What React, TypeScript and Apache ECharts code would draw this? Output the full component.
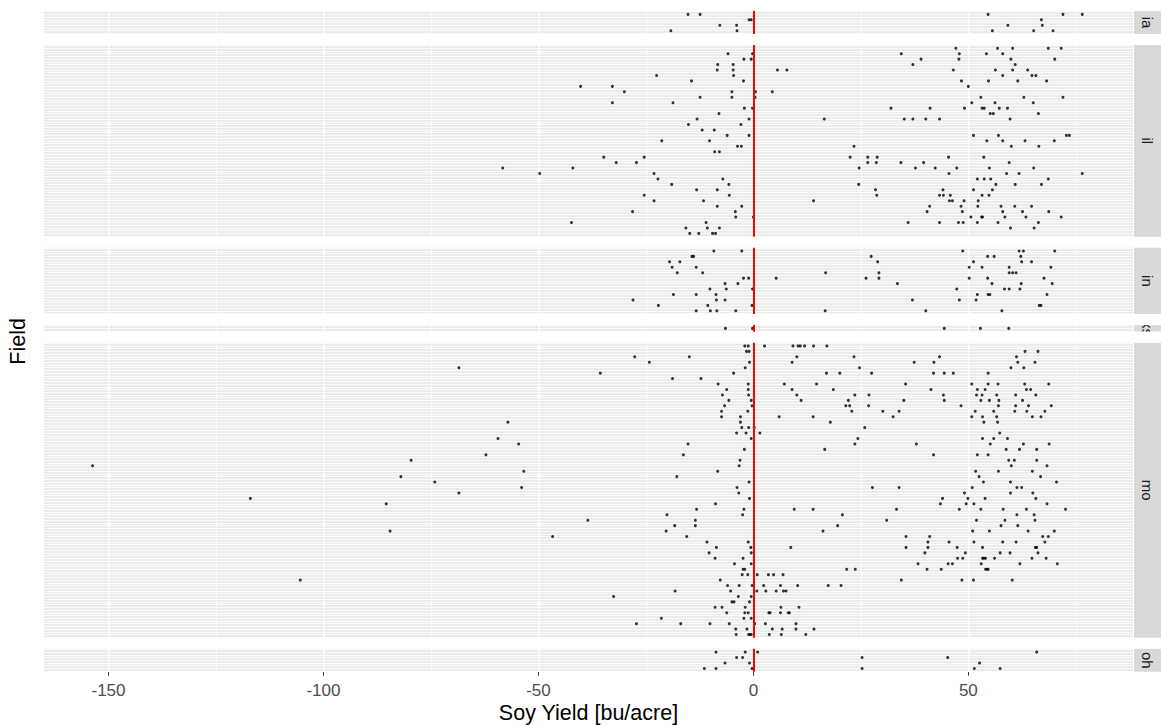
import React, { useEffect, useRef } from "react";
import * as echarts from "echarts";

// Facet strip labels (state) and the per-field yield differences, one array per field row.
const stripLabels = ["ia", "il", "in", "ks", "mo", "oh"];

const iaRows: number[][] = [
  [-15.2, -12.4, 54.6, 72.0, 76.5],
  [-1.0, -0.5, 67.0],
  [-7.8, -3.9, 59.2, 67.2],
  [-19.2, -3.8, 55.6, 65.2, 69.7],
];

const ilRows: number[][] = [
  [47.1, 56.8, 60.3, 68.6, 71.6],
  [-5.9, -0.2, 34.4, 47.9, 54.2, 58.0],
  [-2.2, -0.5, 39.0, 47.8, 59.9, 70.1],
  [-8.3, -4.7, 37.1, 60.9],
  [-8.4, -4.7, 5.6, 7.8, 46.5, 56.3, 60.3, 63.8],
  [-22.5, -4.6, 58.0, 64.8, 65.7],
  [-14.4, -2.3, 48.4, 54.7, 61.5, 68.2],
  [-40.2, -32.8, 50.0],
  [-30.0, -5.0, 0.5, 4.4],
  [-12.4, -5.0, 0.4, 52.9, 62.9, 72.0],
  [-32.8, -18.7, 50.8, 56.2, 65.1],
  [-2.1, -0.2, 32.0, 41.1, 49.1, 53.2, 53.7, 57.2, 59.1],
  [-8.0, 55.1, 55.8, 66.3],
  [-13.1, -1.0, 16.5, 35.1, 37.1, 40.1, 43.3, 59.7],
  [-15.1, -2.9],
  [-11.9, -9.1],
  [-6.1, -1.0, 51.2, 57.0, 72.8, 73.5],
  [-21.3, -10.2, 54.3, 58.0, 63.2, 70.0],
  [-3.7, -2.8, 23.4, 60.0, 66.4],
  [-9.0, -7.9],
  [-34.8, -25.4, 22.5, 26.6, 28.8, 45.4, 53.6],
  [-31.9, -27.2, 26.6, 28.6, 34.3, 39.6, 59.5],
  [-58.3, -42.0, 24.6, 37.7, 42.3, 47.3, 54.9, 65.2],
  [-49.7, -23.1, 45.5, 58.9, 61.8, 76.5],
  [-22.2, -7.1, 52.1, 53.7, 55.2, 68.6],
  [-19.0, -5.7, 24.5, 56.4, 60.9, 67.0],
  [-13.2, -8.4, 28.4, 44.1, 51.2, 55.6],
  [-25.4, -5.6, 28.7, 43.3, 44.2, 45.8, 53.2, 54.8],
  [-23.1, -11.6, 14.0, 45.6, 46.3, 49.0, 52.3],
  [-8.4, -2.7, 41.0, 48.3, 52.2, 57.6, 60.8, 64.7],
  [-28.1, -4.2, 40.4, 48.6, 58.0, 62.6, 68.7],
  [-4.1, 0.0, 50.6, 53.1, 53.3, 58.5, 63.4, 71.6],
  [-42.3, -11.0, 36.0, 43.3, 47.7, 48.8, 52.1, 56.9, 66.3],
  [-15.7, -10.7, -7.9, 59.8, 65.3],
  [-14.8, -12.7, -9.5, -8.8],
];

const inRows: number[][] = [
  [-9.2, -2.7, 48.7, 61.8, 62.8, 70.1],
  [-14.3, -13.9, 27.4, 54.5, 56.0, 62.2],
  [-19.5, -17.1, 28.9, 51.2, 62.4, 64.7],
  [-18.9, -13.3, 50.2, 53.2, 59.5, 69.2],
  [-17.7, -11.8, 16.8, 29.2, 59.5, 60.3, 61.1],
  [-2.3, -1.1, 5.3, 26.2, 29.2, 50.2, 54.5, 67.6],
  [-6.6, -3.6, 33.5, 55.5, 62.3, 69.5],
  [-10.1, -6.3, -0.2, 47.3, 58.4, 59.5, 62.0],
  [-18.6, -13.3, -8.7, 52.1, 54.6, 55.0, 68.3],
  [-28.0, -8.6, -6.6, 37.0, 47.9, 51.8],
  [-22.1, -10.6, -0.3, 66.5, 66.9],
  [-13.3, -10.0, -8.5, -4.1, 16.7, 40.1, 57.8],
];

const ksRows: number[][] = [[-6.5, -0.2, 44.4, 52.8, 59.4]];

const moRows: number[][] = [
  [-2.0, -1.2, 2.6, 9.2, 10.4, 10.9, 11.9, 14.0, 17.1],
  [-1.6, -1.0, 63.2, 66.2],
  [-27.6, -14.9, 10.1, 23.4, 43.3, 61.2],
  [-24.2, -0.9, 9.0, 37.4, 42.0, 61.5, 65.5],
  [-68.5, -1.9, 24.7, 59.9, 62.9],
  [-35.6, -4.6, 17.0, 20.1, 27.5, 41.9, 44.4, 46.5, 54.6],
  [-18.8, -12.2],
  [-8.2, -1.2, 7.2, 14.7, 35.4, 50.8, 54.6, 56.9, 63.1, 68.7],
  [-6.2, -1.2, 9.0, 18.6, 41.3, 52.1, 53.9, 63.5, 64.5],
  [-7.2, -1.1, 10.1, 23.6, 26.9, 44.2, 51.9, 53.2, 56.6, 61.0, 65.7],
  [-5.7, -0.5, 11.1, 22.1, 35.0, 44.4, 52.9, 54.9, 57.1, 62.6],
  [-6.7, -0.3, 21.5, 22.4, 26.8, 48.3, 57.0, 61.0, 64.0, 69.3],
  [-7.4, -1.3, 22.9, 30.1, 33.9, 51.6, 55.9, 60.8, 63.6, 67.8],
  [-7.4, -3.0, 6.0, 13.9, 32.5, 50.8, 53.3, 56.6, 64.9, 66.9],
  [-57.1, -3.0, 17.9, 53.6, 56.8],
  [-2.7, -1.1, 0.2, 25.9],
  [-3.9, -1.7, 1.5, 57.3],
  [-59.4, -0.5, 24.3, 53.3, 55.9, 59.1],
  [-54.6, -15.2, 23.6, 37.9, 55.1, 62.8, 68.8],
  [-2.1, 16.6, 58.8, 61.9, 65.9],
  [-62.2, -16.3, 41.9, 52.1, 54.6],
  [-79.6, -3.1, 59.4, 60.7, 65.9],
  [-153.7, -3.3, 60.0, 68.3],
  [-53.4, -8.3, 51.7, 57.0, 64.9],
  [-82.0, -17.8, 52.5, 66.8],
  [-74.1, -1.0, 53.5, 59.8, 70.5],
  [-53.9, -3.8, 27.7, 33.9, 50.9, 61.3, 62.4],
  [-68.5, -3.4, 49.1, 59.8, 65.0],
  [-117.0, -0.9, 44.0, 49.9, 53.9, 65.7],
  [-85.4, -8.8, 43.5, 49.5, 51.3, 68.3],
  [-13.2, -2.2, 9.5, 13.9, 33.3, 47.9, 52.9, 58.1, 63.5, 72.6],
  [-20.1, -2.5, 20.7, 61.3, 65.3],
  [-38.5, -13.5, 31.0, 51.9, 58.5, 65.5],
  [-18.3, -13.5, 19.6, 57.6, 61.5],
  [-84.5, -20.3, 16.2, 51.0, 54.9, 63.9, 70.0],
  [-46.7, -15.5, 35.5, 41.0, 67.3, 68.6],
  [-10.8, -1.2, 40.6, 45.5, 51.3, 58.0, 61.1, 67.8],
  [-8.6, -0.6, 8.7, 35.5, 40.6, 47.4, 53.3, 65.6, 65.9],
  [-10.3, -0.5, 39.9, 49.3, 57.4, 59.7, 66.2],
  [-8.9, -2.4, 47.5, 48.7, 53.3, 53.6, 54.0, 56.1, 64.8, 68.1],
  [-4.4, -0.5, 38.3, 45.3, 46.3, 53.0, 62.0, 70.7],
  [-2.4, -2.0, 21.7, 23.7, 40.4, 43.7, 54.0, 54.4, 54.6],
  [-2.6, -1.3, 0.9, 3.5, 4.7, 6.9],
  [-105.4, -7.7, 34.4, 48.5, 51.2, 60.2],
  [-6.0, -3.3, -0.3, 2.4, 6.3, 10.3, 17.4, 20.4],
  [-18.2, -5.3, 0.8, 2.9, 5.3, 7.0, 7.6],
  [-32.5, -3.5, -0.5],
  [-5.0, -4.5, -0.9],
  [-8.9, -7.3, -1.9, 6.4, 10.6],
  [-6.2, -2.0, -1.2, 3.6, 3.9, 6.3, 8.1, 8.4],
  [-21.4, -2.2, -0.5],
  [-27.2, -16.9, -10.1, -5.6, 0.3, 2.8, 9.9],
  [-4.1, -1.5, 4.4, 6.7, 9.9, 14.1],
  [-4.0, -1.1, -0.8, -0.5, 3.7, 6.5, 12.2],
];

const ohRows: number[][] = [
  [-8.7, -1.9, 1.0, 65.9],
  [-3.9, -2.5, 25.3, 45.2],
  [-6.6, -0.9, 52.6],
  [-11.4, -8.7, -0.3, 25.3, 51.4, 57.4],
];

const panelRows = [iaRows, ilRows, inRows, ksRows, moRows, ohRows];

const xTicks = [-150, -100, -50, 0, 50];
const xMinorBreaks = [-125, -75, -25, 25, 75];
const xLimits = [-165, 88.3];
const referenceLine = 0;

const FONT = "'Liberation Sans', Arial, Helvetica, sans-serif";

export default function App() {
  const ref = useRef<HTMLDivElement>(null);

  useEffect(() => {
    if (!ref.current) return;
    const chart = echarts.init(ref.current, undefined, { renderer: "svg" });

    const rowStep = 5.446;
    const gap = 11;
    const panelLeft = 44;
    const panelRight = 1133;
    const stripX = 1134;
    const stripW = 27;

    const grids: any[] = [];
    const xAxes: any[] = [];
    const yAxes: any[] = [];
    const series: any[] = [];
    const graphics: any[] = [];
    const boxes: { top: number; height: number }[] = [];

    let top = 11.1;
    const last = panelRows.length - 1;

    panelRows.forEach((rows, i) => {
      const n = rows.length;
      const height = (n + 0.2) * rowStep;
      boxes.push({ top, height });

      grids.push({
        left: panelLeft,
        top,
        width: panelRight - panelLeft,
        height,
        show: true,
        backgroundColor: "#EBEBEB",
        borderWidth: 0,
        containLabel: false,
      });

      xAxes.push({
        type: "value",
        gridIndex: i,
        min: xLimits[0],
        max: xLimits[1],
        axisLine: { show: false },
        splitLine: { show: false },
        axisTick: {
          show: i === last,
          customValues: xTicks,
          length: 4,
          lineStyle: { color: "#333333", width: 1 },
        },
        axisLabel: {
          show: i === last,
          customValues: xTicks,
          color: "#4D4D4D",
          fontSize: 17,
          fontFamily: FONT,
          margin: 10,
        },
      });

      yAxes.push({
        type: "value",
        gridIndex: i,
        min: 0.4,
        max: n + 0.6,
        inverse: true,
        show: false,
      });

      // background grid: white rules at every half row, plus major/minor x breaks
      const hLines: any[] = [];
      for (let v = 0.5; v <= n + 0.5 + 1e-9; v += 0.5) {
        hLines.push({ yAxis: v, lineStyle: { width: 0.8 } });
      }
      const vLines = [
        ...xMinorBreaks.map((v) => ({ xAxis: v, lineStyle: { width: 0.7 } })),
        ...xTicks.map((v) => ({ xAxis: v, lineStyle: { width: 1.5 } })),
      ];
      series.push({
        type: "scatter",
        xAxisIndex: i,
        yAxisIndex: i,
        data: [],
        z: 1,
        silent: true,
        markLine: {
          z: 1,
          silent: true,
          symbol: ["none", "none"],
          label: { show: false },
          emphasis: { disabled: true },
          lineStyle: { color: "#FFFFFF", type: "solid", opacity: 1 },
          data: [...hLines, ...vLines],
        },
      });

      const pts: number[][] = [];
      rows.forEach((vals, r) => vals.forEach((v) => pts.push([v, r + 1])));
      series.push({
        type: "scatter",
        xAxisIndex: i,
        yAxisIndex: i,
        data: pts,
        symbol: "circle",
        symbolSize: 3,
        itemStyle: { color: "#000000" },
        z: 3,
        silent: true,
      });

      series.push({
        type: "scatter",
        xAxisIndex: i,
        yAxisIndex: i,
        data: [],
        z: 4,
        silent: true,
        markLine: {
          z: 6,
          silent: true,
          symbol: ["none", "none"],
          label: { show: false },
          emphasis: { disabled: true },
          lineStyle: { color: "#FF0000", type: "solid", width: 2, opacity: 1 },
          data: [{ xAxis: referenceLine }],
        },
      });

      graphics.push({
        type: "rect",
        shape: { x: stripX, y: top, width: stripW, height },
        style: { fill: "#D9D9D9" },
        silent: true,
      });
      graphics.push({
        type: "text",
        x: stripX + stripW / 2,
        y: top + height / 2,
        rotation: -Math.PI / 2,
        silent: true,
        style: {
          text: stripLabels[i],
          fill: "#1A1A1A",
          fontSize: 15,
          fontFamily: FONT,
          align: "center",
          verticalAlign: "middle",
        },
      });

      top += height + gap;
    });

    // strip text of the one-row panel is clipped to its strip
    const ks = boxes[3];
    graphics.push({
      type: "rect",
      shape: { x: stripX, y: ks.top - gap + 0.5, width: stripW, height: gap - 0.5 },
      style: { fill: "#FFFFFF" },
      silent: true,
    });
    graphics.push({
      type: "rect",
      shape: { x: stripX, y: ks.top + ks.height, width: stripW, height: gap - 0.5 },
      style: { fill: "#FFFFFF" },
      silent: true,
    });

    graphics.push({
      type: "text",
      x: (panelLeft + panelRight) / 2,
      y: 713,
      silent: true,
      style: {
        text: "Soy Yield [bu/acre]",
        fill: "#000000",
        fontSize: 21.5,
        fontFamily: FONT,
        align: "center",
        verticalAlign: "middle",
      },
    });
    graphics.push({
      type: "text",
      x: 18,
      y: (boxes[0].top + boxes[last].top + boxes[last].height) / 2,
      rotation: Math.PI / 2,
      silent: true,
      style: {
        text: "Field",
        fill: "#000000",
        fontSize: 21.5,
        fontFamily: FONT,
        align: "center",
        verticalAlign: "middle",
      },
    });

    chart.setOption({
      animation: false,
      backgroundColor: "#FFFFFF",
      textStyle: { fontFamily: FONT },
      grid: grids,
      xAxis: xAxes,
      yAxis: yAxes,
      series,
      graphic: { elements: graphics },
    });

    return () => chart.dispose();
  }, []);

  return (
    <div
      ref={ref}
      style={{ position: "absolute", left: 0, top: 0, width: 1161, height: 725 }}
    />
  );
}
